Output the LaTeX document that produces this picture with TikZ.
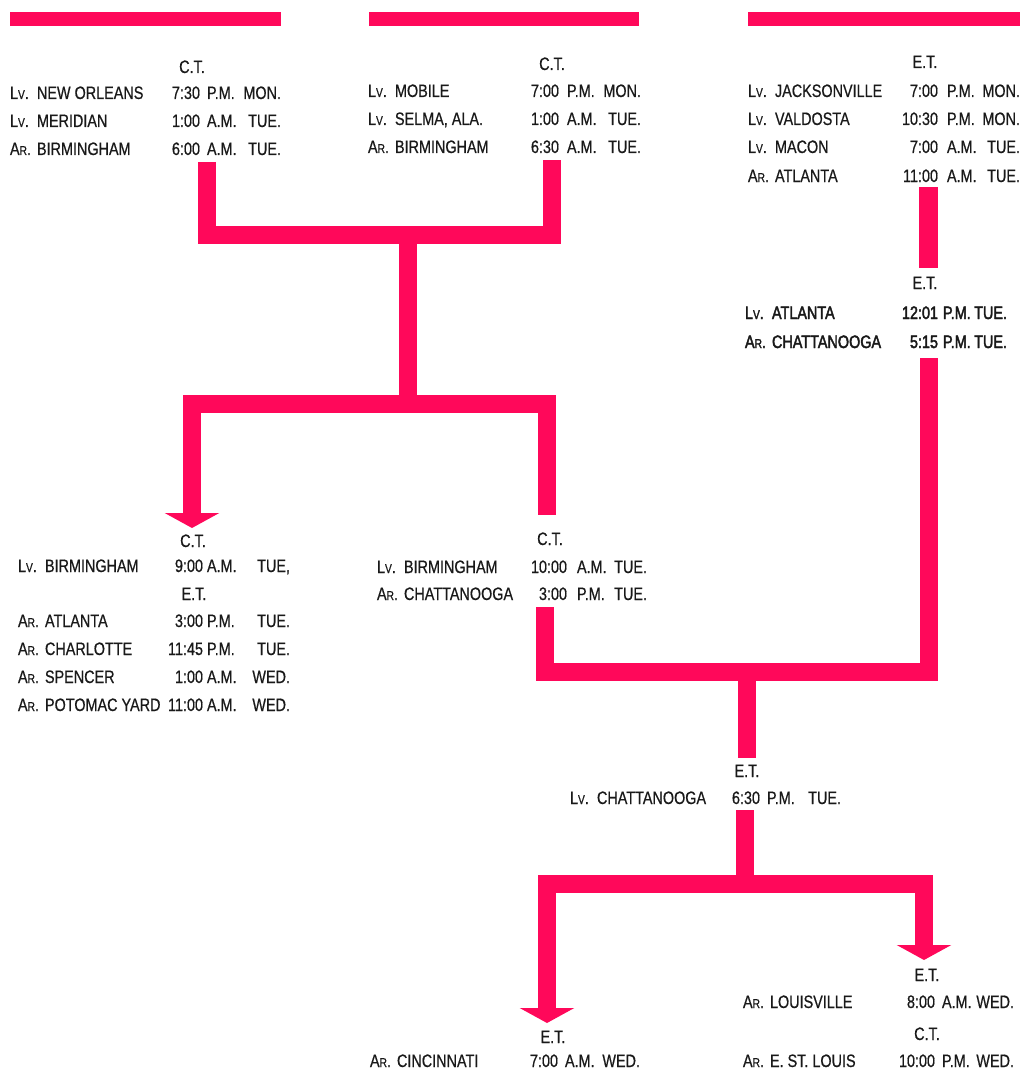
\documentclass[tikz,border=0pt]{standalone}
\usepackage{fontspec}
\setmainfont{Liberation Sans}[FakeStretch=0.8, FakeBold=0.6]
\newfontfamily\heavy{Liberation Sans}[FakeStretch=0.8, FakeBold=2.2]
\usetikzlibrary{arrows.meta}
\definecolor{rail}{RGB}{255,8,90}
\definecolor{ink}{RGB}{25,25,25}
\newlength\px \setlength\px{0.75pt}
\newlength\wA \newlength\wB \newlength\wC
\newcommand\setcols[3]{\global\wA=#1\px \global\wB=#2\px \global\wC=#3\px}
\newcommand\smc[1]{{\fontsize{9.6pt}{9.6pt}\selectfont #1}}
\newcommand\LV{\makebox[27\px][l]{L\smc{V}.}}
\newcommand\AR{\makebox[27\px][l]{A\smc{R}.}}
\newcommand\trow[5]{\makebox[\wA][l]{#1#2\hfill#3}\hspace{\wB}\makebox[\wC][l]{#4\hfill#5}}
\tikzset{
  txt/.style={inner sep=0pt, outer sep=0pt, anchor=base west, text=ink,
    font=\fontsize{13.5pt}{16pt}\selectfont},
  boldtxt/.style={txt, font=\fontsize{13.5pt}{16pt}\heavy},
  hdr/.style={txt, anchor=base},
  conn/.style={draw=rail, line width=13.75pt, line join=miter},
  tip/.style={-{Triangle[width=40.5pt,length=11.25pt]}},
  bar/.style={fill=rail}
}
\begin{document}
\begin{tikzpicture}[x=0.75pt,y=-0.75pt]
\useasboundingbox[fill=white] (0,0) rectangle (1022,1070);

% top bars
\fill[bar] (10,12) rectangle (281,26);
\fill[bar] (369,12) rectangle (639,26);
\fill[bar] (748,12) rectangle (1020,26);

% block 1
\setcols{190}{7}{74}
\node[hdr] (h1) at (192,73) {C.T.};
\node[txt] (r11) at (10,99) {\trow{\LV}{NEW ORLEANS}{7:30}{P.M.}{MON.}};
\node[txt] (r12) at (10,127) {\trow{\LV}{MERIDIAN}{1:00}{A.M.}{TUE.}};
\node[txt] (r13) at (10,155) {\trow{\AR}{BIRMINGHAM}{6:00}{A.M.}{TUE.}};

% block 2
\setcols{191}{8}{74}
\node[hdr] (h2) at (552,70) {C.T.};
\node[txt] (r21) at (368,97) {\trow{\LV}{MOBILE}{7:00}{P.M.}{MON.}};
\node[txt] (r22) at (368,125) {\trow{\LV}{SELMA, ALA.}{1:00}{A.M.}{TUE.}};
\node[txt] (r23) at (368,153) {\trow{\AR}{BIRMINGHAM}{6:30}{A.M.}{TUE.}};

% block 3
\setcols{190}{9}{73}
\node[hdr] (h3) at (925,68) {E.T.};
\node[txt] (r31) at (748,97) {\trow{\LV}{JACKSONVILLE}{7:00}{P.M.}{MON.}};
\node[txt] (r32) at (748,125) {\trow{\LV}{VALDOSTA}{10:30}{P.M.}{MON.}};
\node[txt] (r33) at (748,153) {\trow{\LV}{MACON}{7:00}{A.M.}{TUE.}};
\node[txt] (r34) at (748,182) {\trow{\AR}{ATLANTA}{11:00}{A.M.}{TUE.}};

% block 4
\setcols{193}{5}{64}
\node[hdr] (h4) at (925,289) {E.T.};
\node[boldtxt] (r41) at (745,319) {\trow{\LV}{ATLANTA}{12:01}{P.M.}{TUE.}};
\node[boldtxt] (r42) at (745,348) {\trow{\AR}{CHATTANOOGA}{5:15}{P.M.}{TUE.}};

% block 5
\setcols{185}{4}{83}
\node[hdr] (h5) at (193,547) {C.T.};
\node[txt] (r51) at (18,572) {\trow{\LV}{BIRMINGHAM}{9:00}{A.M.}{TUE,}};
\node[hdr] (h5b) at (194,600) {E.T.};
\node[txt] (r52) at (18,627) {\trow{\AR}{ATLANTA}{3:00}{P.M.}{TUE.}};
\node[txt] (r53) at (18,655) {\trow{\AR}{CHARLOTTE}{11:45}{P.M.}{TUE.}};
\node[txt] (r54) at (18,683) {\trow{\AR}{SPENCER}{1:00}{A.M.}{WED.}};
\node[txt] (r55) at (18,711) {\trow{\AR}{POTOMAC YARD}{11:00}{A.M.}{WED.}};

% block 6
\setcols{190}{10}{70}
\node[hdr] (h6) at (550,545) {C.T.};
\node[txt] (r61) at (377,573) {\trow{\LV}{BIRMINGHAM}{10:00}{A.M.}{TUE.}};
\node[txt] (r62) at (377,600) {\trow{\AR}{CHATTANOOGA}{3:00}{P.M.}{TUE.}};

% block 7
\setcols{190}{7}{74}
\node[hdr] (h7) at (747,777) {E.T.};
\node[txt] (r71) at (570,804) {\trow{\LV}{CHATTANOOGA}{6:30}{P.M.}{TUE.}};

% block 8
\setcols{192}{7}{72}
\node[hdr] (h8) at (927,981) {E.T.};
\node[txt] (r81) at (743,1008) {\trow{\AR}{LOUISVILLE}{8:00}{A.M.}{WED.}};
\node[hdr] (h8b) at (927,1040) {C.T.};
\node[txt] (r82) at (743,1067) {\trow{\AR}{E. ST. LOUIS}{10:00}{P.M.}{WED.}};

% block 9
\setcols{188}{7}{75}
\node[hdr] (h9) at (553,1043) {E.T.};
\node[txt] (r91) at (370,1067) {\trow{\AR}{CINCINNATI}{7:00}{A.M.}{WED.}};

% connector coordinates
\coordinate (bA) at (207,162);
\coordinate (bB) at (552,160);
\coordinate (jA) at (408,235);
\coordinate (jB) at (408,404);
\coordinate (toAtl) at (192,528);
\coordinate (toCha) at (547,515);
\coordinate (atlA) at (928.5,187);
\coordinate (atlB) at (928.5,268);
\coordinate (chA) at (929,358);
\coordinate (chB) at (545,607);
\coordinate (jC) at (747,672);
\coordinate (lvC) at (747,758);
\coordinate (lvD) at (745,810);
\coordinate (jD) at (745,884);
\coordinate (toCin) at (547,1023);
\coordinate (toLou) at (924,960);

% connectors
\draw[conn] (bA) |- (jA) -| (bB);
\draw[conn] (jA) -- (jB);
\draw[conn,tip] (jB) -| (toAtl);
\draw[conn] (jB) -| (toCha);
\draw[conn] (atlA) -- (atlB);
\draw[conn] (chA) |- (jC);
\draw[conn] (chB) |- (jC);
\draw[conn] ([yshift=-1]jC) -- (lvC);
\draw[conn] (lvD) -- (jD);
\draw[conn,tip] (jD) -| (toCin);
\draw[conn,tip] (jD) -| (toLou);
\end{tikzpicture}
\end{document}
